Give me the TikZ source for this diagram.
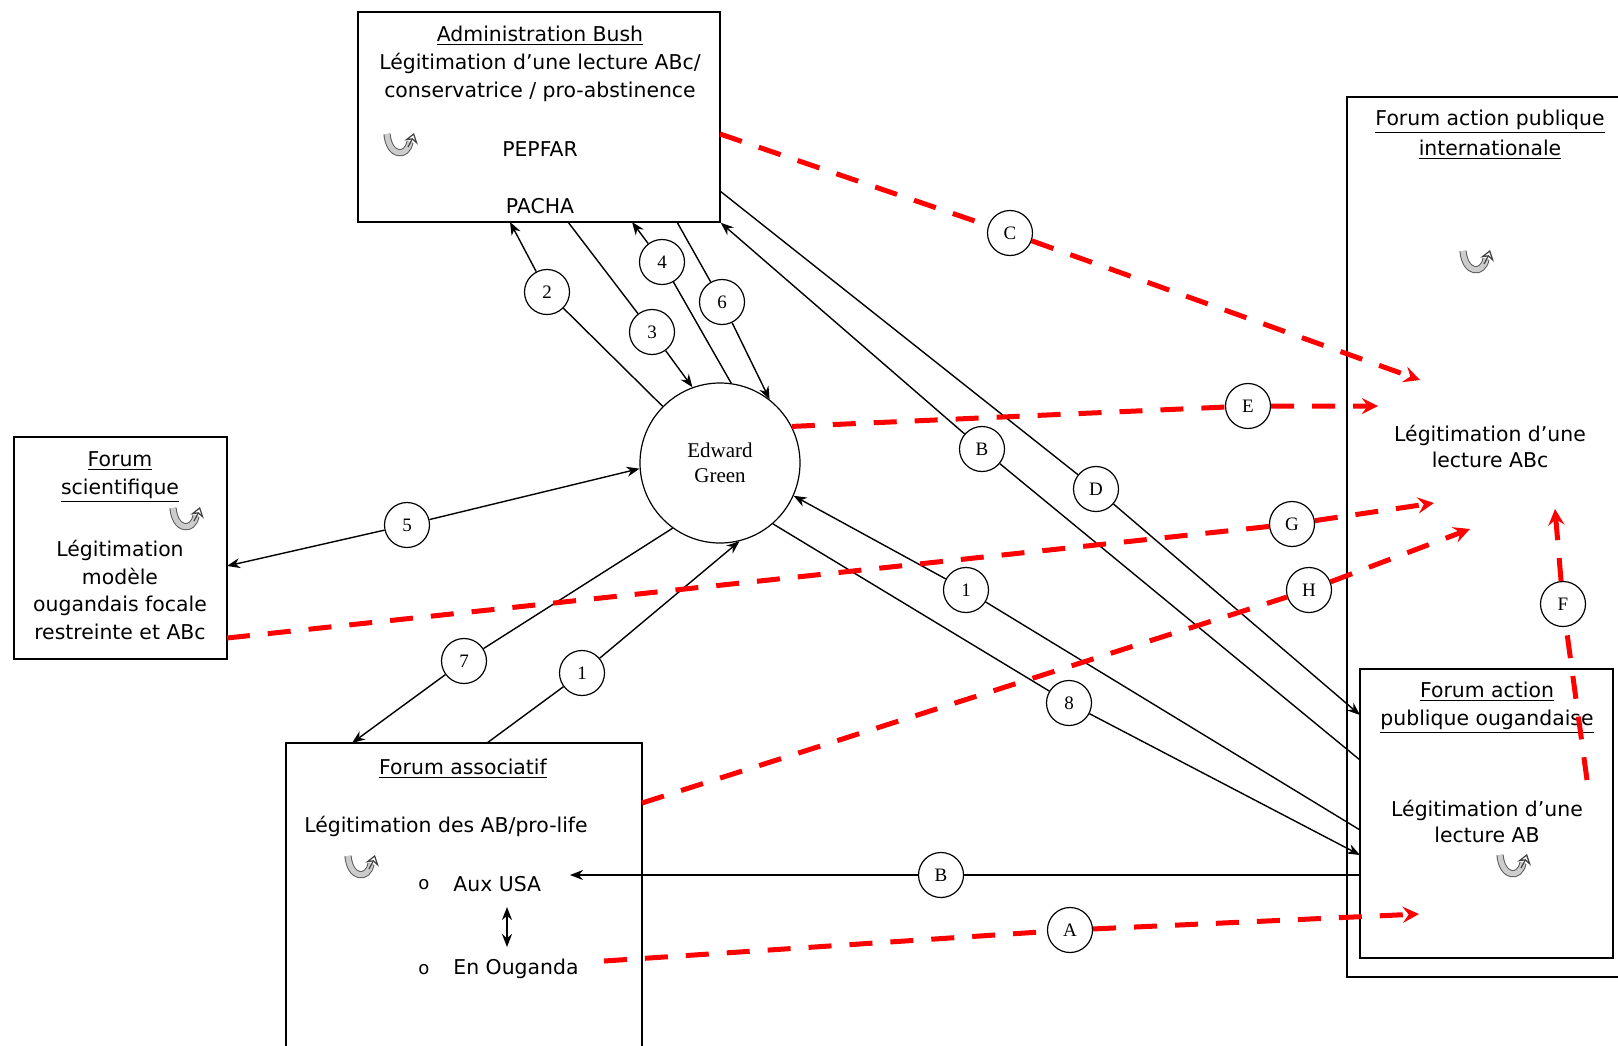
\documentclass[tikz,border=0pt]{standalone}
\usepackage{fontspec}
\setmainfont{DejaVu Sans}
\newfontfamily\timesfont{Liberation Serif}
\usepackage{xcolor}
\usetikzlibrary{arrows.meta}
\tikzset{
	box/.style={draw, line width=0.7pt, inner sep=0pt},
	txt/.style={align=center, inner sep=0pt, font=\fontsize{10.2}{14}\selectfont},
	lbl/.style={circle, draw, line width=0.6pt, minimum size=22.5pt, inner sep=0pt, font=\timesfont\fontsize{9.5}{10}\selectfont},
	fil/.style={line width=0.7pt, >={Stealth[length=6.5pt, width=5pt]}},
	rouge/.style={red, line width=2.5pt, dash pattern=on 11.5pt off 9pt},
	cyc/.pic={
		\draw[line width=3.6pt, black!65] (-15,-9) .. controls (-13,14) and (5,15) .. (8,-1);
		\draw[line width=2.6pt, gray!40] (-15,-9) .. controls (-13,14) and (5,15) .. (8,-1);
		\draw[-{Stealth[open, length=5pt, width=7pt]}, line width=0.6pt, black!75] (6,4) .. controls (9,0) .. (12,-10);
	}
}
\begin{document}
\begin{tikzpicture}[x=0.5pt, y=-0.5pt]
		\useasboundingbox (0,0) rectangle (1618,1045);
		\clip (0,0) rectangle (1618,1045);
		% boxes
		\node[box, minimum width=181pt, minimum height=105pt] (bush) at (539,117) {};
		\node[box, minimum width=139pt, minimum height=440pt] (intl) at (1486,537) {};
		\node[box, minimum width=126.5pt, minimum height=144.5pt] (ougd) at (1486.5,813.5) {};
		\node[box, minimum width=106.5pt, minimum height=111pt] (sci) at (120.5,548) {};
		\node[box, minimum width=178pt, minimum height=163.5pt] (asso) at (464,906.5) {};
		\node[circle, draw, line width=0.6pt, minimum size=80pt, inner sep=0pt, align=center, font=\timesfont\fontsize{10.5}{12.5}\selectfont] (eg) at (720,463) {Edward\\Green};
		% texts
		\node[txt] (bushT) at (540,64) {\underline{Administration Bush}\\Légitimation d’une lecture ABc/\\conservatrice / pro-abstinence};
		\node[txt] (pepfar) at (540,149) {PEPFAR};
		\node[txt] (pacha) at (540,206) {PACHA};
		\node[txt, font=\fontsize{10.2}{15}\selectfont] (intlT) at (1490,135) {\underline{Forum action publique}\\\underline{internationale}};
		\node[txt, font=\fontsize{10.2}{13}\selectfont] (intlL) at (1490,446) {Légitimation d’une\\lecture ABc};
		\node[txt] (ougdT) at (1487,708) {\underline{Forum action}\\\underline{publique ougandaise}};
		\node[txt, font=\fontsize{10.2}{13}\selectfont] (ougdL) at (1487,821) {Légitimation d’une\\lecture AB};
		\node[txt] (sciT) at (120,477) {\underline{Forum}\\\underline{scientifique}};
		\node[txt, font=\fontsize{10.2}{13.85}\selectfont] (sciL) at (120,590) {Légitimation\\modèle\\ougandais focale\\restreinte et ABc};
		\node[txt] (assoT) at (463,769) {\underline{Forum associatif}};
		\node[txt] (assoL) at (446,826) {Légitimation des AB/pro-life};
		\node[txt, font=\fontsize{9}{9}\selectfont] (bul1) at (424,885) {o};
		\node[txt, font=\fontsize{9}{9}\selectfont] (bul2) at (424,970) {o};
		\node[txt, anchor=west] (usa) at (453,884) {Aux USA};
		\node[txt, anchor=west] (ougda) at (453,969) {En Ouganda};
		\pic at (402,143) {cyc};
		\pic at (1478,260) {cyc};
		\pic at (1515,864) {cyc};
		\pic at (188,517) {cyc};
		\pic at (363,865) {cyc};
		% labels
		\node[lbl] (c2) at (547,292) {2};
		\node[lbl] (c3) at (652,332) {3};
		\node[lbl] (c4) at (662,262) {4};
		\node[lbl] (c6) at (722,302) {6};
		\node[lbl] (c5) at (407,525) {5};
		\node[lbl] (c7) at (464,661) {7};
		\node[lbl] (c1g) at (582,673) {1};
		\node[lbl] (c1d) at (966,590) {1};
		\node[lbl] (c8) at (1069,703) {8};
		\node[lbl] (cBh) at (982,449) {B};
		\node[lbl] (cD) at (1096,489) {D};
		\node[lbl] (cBb) at (941,875) {B};
		\node[lbl] (cA) at (1070,930) {A};
		\node[lbl] (cC) at (1010,233) {C};
		\node[lbl] (cE) at (1248,406) {E};
		\node[lbl] (cG) at (1292,524) {G};
		\node[lbl] (cH) at (1309,590) {H};
		\node[lbl] (cF) at (1563,604) {F};
		% ends
		\coordinate (p2) at (510,222);
		\coordinate (p3) at (568,222);
		\coordinate (p4) at (632,222);
		\coordinate (p6) at (677,222);
		\coordinate (pD) at (720,191);
		\coordinate (pC) at (720,134);
		\coordinate (qD) at (1360,715);
		\coordinate (qB) at (1360,760);
		\coordinate (q1) at (1360,830);
		\coordinate (q8) at (1360,855);
		\coordinate (qBb) at (1360,875);
		\coordinate (qF) at (1587,780);
		\coordinate (q5) at (227,566);
		\coordinate (qG) at (227,638);
		\coordinate (r7) at (352,743);
		\coordinate (r1) at (487,743);
		\coordinate (rH) at (642,803);
		\coordinate (usaE) at (570,875);
		\coordinate (aS) at (604,961);
		\coordinate (tC) at (1420,380);
		\coordinate (tE) at (1378,406);
		\coordinate (tG) at (1434,503);
		\coordinate (tH) at (1470,529);
		\coordinate (tF) at (1555,509);
		\coordinate (tA) at (1419,914);
		\coordinate (dUp) at (507,907);
		\coordinate (dDn) at (507,947);
		% black connectors
		\draw[fil, ->] (eg) -- (c2) -- (p2);
		\draw[fil, ->] (p3) -- (c3) -- (eg.110);
		\draw[fil, ->] (eg.82) -- (c4) -- (p4);
		\draw[fil, ->] (p6) -- (c6) -- (eg.52);
		\draw[fil, <-] (q5) -- (c5);
		\draw[fil, ->] (c5) -- (eg.184);
		\draw[fil, ->] (eg.234) -- (c7) -- (r7);
		\draw[fil, ->] (r1) -- (c1g) -- (eg.-76);
		\draw[fil, ->] (qB) -- (cBh) -- (bush.south east);
		\draw[fil, ->] (pD) -- (cD) -- (qD);
		\draw[fil, ->] (q1) -- (c1d) -- (eg.-24);
		\draw[fil, ->] (eg.-49) -- (c8) -- (q8);
		\draw[fil, ->] (qBb) -- (cBb) -- (usaE);
		\draw[fil, <->, line width=1pt] (dUp) -- (dDn);
		% red connectors
		\draw[rouge, -stealth] (pC) -- (cC) -- (tC);
		\draw[rouge, -stealth] (eg.27) -- (cE) -- (tE);
		\draw[rouge, -stealth] (qG) -- (cG) -- (tG);
		\draw[rouge, -stealth] (rH) -- (cH) -- (tH);
		\draw[rouge, -stealth] (qF) -- (cF) -- (tF);
		\draw[rouge, -stealth] (aS) -- (cA) -- (tA);
\end{tikzpicture}
\end{document}
